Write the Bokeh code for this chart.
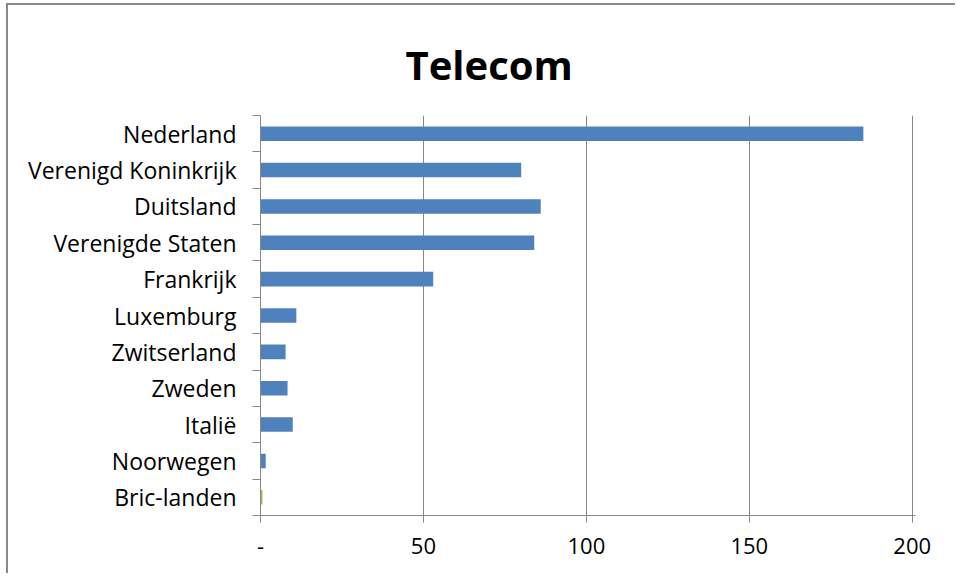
from bokeh.plotting import figure
from bokeh.models import FixedTicker, Range1d, ColumnDataSource
from bokeh.embed import file_html
from bokeh.resources import INLINE

categories = ["Nederland", "Verenigd Koninkrijk", "Duitsland", "Verenigde Staten",
              "Frankrijk", "Luxemburg", "Zwitserland", "Zweden", "Italië",
              "Noorwegen", "Bric-landen"]
values = [185, 80, 86, 84, 53, 11, 7.7, 8.3, 9.9, 1.6, 0.6]
bar_colors = ["#4F81BD"] * 10 + ["#9BBB59"]
x_ticks = [0, 50, 100, 150, 200]
x_tick_labels = ["-", "50", "100", "150", "200"]

n = len(categories)
ypos = [n - i - 0.5 for i in range(n)]
src = ColumnDataSource(dict(y=ypos, right=values, color=bar_colors, name=categories))

p = figure(width=949, height=570, output_backend="svg", toolbar_location=None,
           x_range=Range1d(0, 201), y_range=Range1d(0, n),
           min_border_left=252, min_border_right=42, min_border_top=110,
           min_border_bottom=60, title="Telecom",
           styles={"margin-left": "6px", "margin-top": "3px",
                   "border-left": "2px solid #888888",
                   "border-top": "2px solid #888888"})
p.outline_line_color = None
p.background_fill_color = "white"
p.border_fill_color = "white"

p.hbar(y="y", left=0, right="right", height=0.4, fill_color="color",
       line_color=None, source=src)

p.title.text_font = "Open Sans"
p.title.text_font_size = "40px"
p.title.text_font_style = "bold"
p.title.align = "left"
p.title.offset = 145
p.title.standoff = 48
p.title.text_color = "black"

# x axis
p.xaxis.ticker = FixedTicker(ticks=x_ticks, minor_ticks=[])
p.xaxis.major_label_overrides = {t: l for t, l in zip(x_ticks, x_tick_labels)}
p.xaxis.major_tick_in = 0
p.xaxis.major_tick_out = 7
p.xaxis.major_tick_line_color = "#878787"
p.xaxis.axis_line_color = "#878787"
p.xaxis.major_label_text_font = "Open Sans"
p.xaxis.major_label_text_font_size = "22px"
p.xaxis.major_label_text_color = "black"
p.xaxis.major_label_standoff = 15

# y axis
p.yaxis.ticker = FixedTicker(ticks=ypos, minor_ticks=list(range(n + 1)))
p.yaxis.major_label_overrides = {y: c for y, c in zip(ypos, categories)}
p.yaxis.major_tick_line_color = None
p.yaxis.major_tick_in = 0
p.yaxis.major_tick_out = 0
p.yaxis.minor_tick_in = 0
p.yaxis.minor_tick_out = 8
p.yaxis.minor_tick_line_color = "#878787"
p.yaxis.axis_line_color = "#878787"
p.yaxis.major_label_text_font = "Open Sans"
p.yaxis.major_label_text_font_size = "23px"
p.yaxis.major_label_text_color = "black"
p.yaxis.major_label_standoff = 16

p.xgrid.ticker = FixedTicker(ticks=x_ticks)
p.xgrid.grid_line_color = "#878787"
p.xgrid.grid_line_width = 1
p.ygrid.grid_line_color = None

open("out.html", "w").write(file_html(p, INLINE))
